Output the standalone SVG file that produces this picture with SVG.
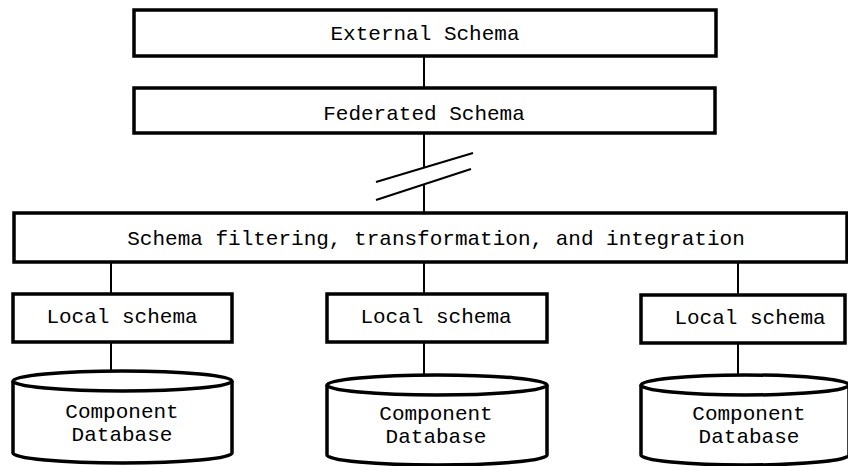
<svg xmlns="http://www.w3.org/2000/svg" width="848" height="466" viewBox="0 0 848 466">
  <style>
    .box { fill: #fff; stroke: #000; stroke-width: 3.5; }
    .db { fill: #fff; stroke: #000; stroke-width: 3.5; }
    .link { fill: none; stroke: #000; stroke-width: 2; }
    .lbl { font-family: "Liberation Mono", "Courier New", monospace; font-size: 21px; fill: #000; text-anchor: middle; }
  </style>
  <rect width="848" height="466" fill="#fff"/>

  <!-- connectors -->
  <g id="connectors">
    <line class="link" x1="424" y1="56" x2="424" y2="88"/>
    <line class="link" x1="424" y1="133" x2="424" y2="167"/>
    <line class="link" x1="424" y1="184" x2="424" y2="212"/>
    <line class="link" x1="376" y1="182" x2="473" y2="153" stroke-width="2.5"/>
    <line class="link" x1="376" y1="200" x2="471" y2="169" stroke-width="2.5"/>
    <line class="link" x1="111" y1="262" x2="111" y2="294"/>
    <line class="link" x1="424" y1="262" x2="424" y2="294"/>
    <line class="link" x1="738" y1="262" x2="738" y2="295"/>
    <line class="link" x1="111" y1="342" x2="111" y2="371"/>
    <line class="link" x1="424" y1="342" x2="424" y2="375"/>
    <line class="link" x1="738" y1="343" x2="738" y2="375"/>
  </g>

  <g id="external-schema">
    <rect class="box" x="134" y="10" width="582" height="46"/>
    <text class="lbl" x="425" y="40">External Schema</text>
  </g>

  <g id="federated-schema">
    <rect class="box" x="134" y="88" width="581" height="45"/>
    <text class="lbl" x="424" y="120">Federated Schema</text>
  </g>

  <g id="schema-integration">
    <rect class="box" x="14" y="213" width="833" height="49"/>
    <text class="lbl" x="436" y="245">Schema filtering, transformation, and integration</text>
  </g>

  <g id="local-schema-1">
    <rect class="box" x="13" y="294" width="219" height="48"/>
    <text class="lbl" x="122" y="323">Local schema</text>
  </g>
  <g id="local-schema-2">
    <rect class="box" x="327" y="294" width="220" height="48"/>
    <text class="lbl" x="436" y="323">Local schema</text>
  </g>
  <g id="local-schema-3">
    <rect class="box" x="641" y="295" width="204" height="48"/>
    <text class="lbl" x="750" y="324">Local schema</text>
  </g>

  <g id="component-db-1">
    <path class="db" d="M13,381 L13,453 A109.5,10 0 0 0 232,453 L232,381"/>
    <ellipse class="db" cx="122.5" cy="381" rx="109.5" ry="10"/>
    <text class="lbl" x="122" y="418">Component</text>
    <text class="lbl" x="122" y="441">Database</text>
  </g>
  <g id="component-db-2">
    <path class="db" d="M327,385 L327,455 A110,10 0 0 0 547,455 L547,385"/>
    <ellipse class="db" cx="437" cy="385" rx="110" ry="10"/>
    <text class="lbl" x="436" y="420">Component</text>
    <text class="lbl" x="436" y="443">Database</text>
  </g>
  <g id="component-db-3">
    <path class="db" d="M641,385 L641,455 A104,10 0 0 0 849,455 L849,385"/>
    <ellipse class="db" cx="745" cy="385" rx="104" ry="10"/>
    <text class="lbl" x="749" y="420">Component</text>
    <text class="lbl" x="749" y="443">Database</text>
  </g>
</svg>
